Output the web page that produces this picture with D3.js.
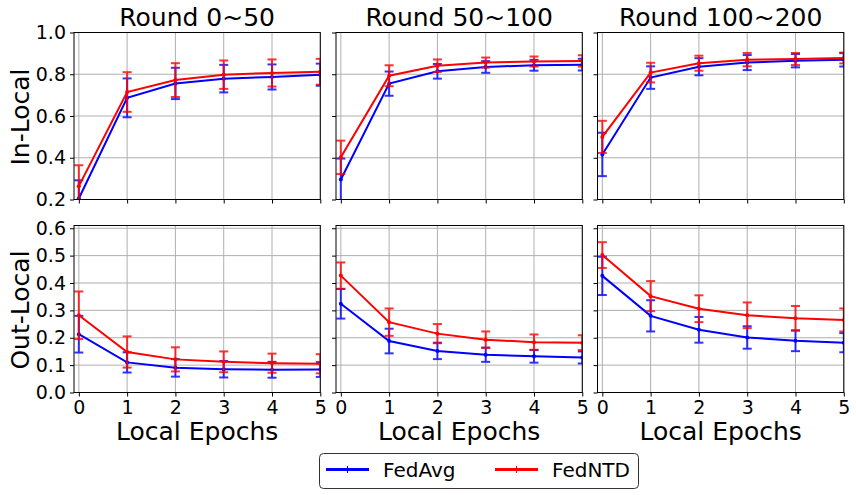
<!DOCTYPE html>
<html><head><meta charset="utf-8">
<script src="https://cdn.jsdelivr.net/npm/d3@7"></script>
<style>
body{margin:0;background:#fff;}
text{font-family:"DejaVu Sans",sans-serif;fill:#000;}
</style></head>
<body>
<svg id="c" width="856" height="495"></svg>
<script>
const epochs = [0,1,2,3,4,5];
const titles = ["Round 0~50","Round 50~100","Round 100~200"];
const rowLabels = ["In-Local","Out-Local"];
const seriesNames = ["FedAvg","FedNTD"];
const seriesColors = ["#0000ff","#ff0000"];
const topTicks = [0.2,0.4,0.6,0.8,1.0];
const bottomTicks = [0.0,0.1,0.2,0.3,0.4,0.5,0.6];

// In-Local: [panel][epoch]
const inAvg = [
  [0.205,0.687,0.756,0.779,0.787,0.798],
  [0.296,0.755,0.814,0.835,0.843,0.846],
  [0.416,0.784,0.836,0.856,0.865,0.869]];
const inAvgErr = [
  [0.087,0.093,0.075,0.066,0.060,0.053],
  [0.100,0.058,0.035,0.028,0.026,0.028],
  [0.104,0.054,0.041,0.036,0.032,0.032]];
const inNtd = [
  [0.264,0.715,0.772,0.798,0.806,0.812],
  [0.402,0.793,0.841,0.856,0.861,0.864],
  [0.500,0.808,0.853,0.870,0.873,0.878]];
const inNtdErr = [
  [0.100,0.095,0.081,0.068,0.065,0.062],
  [0.080,0.050,0.030,0.024,0.024,0.027],
  [0.077,0.047,0.036,0.032,0.029,0.026]];
// Out-Local
const outAvg = [
  [0.213,0.110,0.090,0.085,0.083,0.084],
  [0.324,0.188,0.152,0.138,0.132,0.128],
  [0.426,0.280,0.229,0.201,0.189,0.182]];
const outAvgErr = [
  [0.067,0.037,0.032,0.030,0.029,0.027],
  [0.054,0.045,0.030,0.026,0.023,0.022],
  [0.070,0.057,0.047,0.041,0.038,0.035]];
const outNtd = [
  [0.282,0.148,0.121,0.112,0.107,0.105],
  [0.427,0.257,0.215,0.193,0.184,0.182],
  [0.502,0.352,0.306,0.282,0.271,0.265]];
const outNtdErr = [
  [0.087,0.057,0.044,0.038,0.035,0.035],
  [0.048,0.050,0.035,0.030,0.028,0.027],
  [0.047,0.055,0.049,0.047,0.045,0.042]];

const svg = d3.select("#c");
const lefts = [74, 336, 597.5];
const pw = 246.3;
const tops = [32.5, 225.5];
const ph = 167;
const yDomains = [[0.2,1.0],[0,0.61]];
const yTicks = [topTicks, bottomTicks];
const rows = [
  [[inAvg,inAvgErr],[inNtd,inNtdErr]],
  [[outAvg,outAvgErr],[outNtd,outNtdErr]]];

const defs = svg.append("defs");

for (let r=0;r<2;r++){
  for (let c=0;c<3;c++){
    const x = d3.scaleLinear().domain([-0.1,5]).range([lefts[c], lefts[c]+pw]);
    const y = d3.scaleLinear().domain(yDomains[r]).range([tops[r]+ph, tops[r]]);
    const g = svg.append("g");
    const cid = `clip${r}${c}`;
    defs.append("clipPath").attr("id",cid).append("rect")
      .attr("x",lefts[c]).attr("y",tops[r]).attr("width",pw).attr("height",ph);

    // grid
    const grid = g.append("g").attr("stroke","#b0b0b0").attr("stroke-width",1);
    epochs.forEach(e=>grid.append("line").attr("x1",x(e)).attr("x2",x(e)).attr("y1",tops[r]).attr("y2",tops[r]+ph));
    yTicks[r].forEach(t=>grid.append("line").attr("x1",lefts[c]).attr("x2",lefts[c]+pw).attr("y1",y(t)).attr("y2",y(t)));

    // axes
    const xa = g.append("g").attr("transform",`translate(0,${tops[r]+ph})`)
      .call(d3.axisBottom(x).tickValues(epochs).tickSize(4).tickPadding(4).tickFormat(r===1? d3.format("d") : ""));
    const ya = g.append("g").attr("transform",`translate(${lefts[c]},0)`)
      .call(d3.axisLeft(y).tickValues(yTicks[r]).tickSize(4).tickPadding(4).tickFormat(c===0? d3.format(".1f") : ""));
    [xa,ya].forEach(a=>{
      a.select(".domain").remove();
      a.selectAll("line").attr("stroke","#000").attr("stroke-width",1);
      a.selectAll("text").style("font-size","19px").attr("fill","#000");
    });

    const plot = g.append("g").attr("clip-path",`url(#${cid})`);
    rows[r].forEach(([vals,errs],si)=>{
      const col = seriesColors[si];
      const data = epochs.map((e,i)=>({e, v:vals[c][i], s:errs[c][i]}));
      plot.append("path").datum(data)
        .attr("fill","none").attr("stroke",col).attr("stroke-width",2)
        .attr("d", d3.line().x(d=>x(d.e)).y(d=>y(d.v)));
      const eb = plot.append("g").attr("stroke",col).attr("stroke-width",2).attr("opacity",0.8);
      data.forEach(d=>{
        eb.append("line").attr("x1",x(d.e)).attr("x2",x(d.e)).attr("y1",y(d.v-d.s)).attr("y2",y(d.v+d.s));
        [d.v-d.s, d.v+d.s].forEach(v=>eb.append("line").attr("x1",x(d.e)-4.5).attr("x2",x(d.e)+4.5).attr("y1",y(v)).attr("y2",y(v)));
      });
      plot.selectAll(null).data(data).enter().append("circle")
        .attr("cx",d=>x(d.e)).attr("cy",d=>y(d.v)).attr("r",2).attr("fill",col);
    });

    // frame
    g.append("rect").attr("x",lefts[c]).attr("y",tops[r]).attr("width",pw).attr("height",ph)
      .attr("fill","none").attr("stroke","#000").attr("stroke-width",1);

    if (r===0) g.append("text").attr("x",lefts[c]+pw/2).attr("y",26).attr("text-anchor","middle")
      .style("font-size","25px").text(titles[c]);
    if (r===1) g.append("text").attr("x",lefts[c]+pw/2).attr("y",440).attr("text-anchor","middle")
      .style("font-size","25px").text("Local Epochs");
    if (c===0) g.append("text").attr("transform",`translate(29,${tops[r]+ph/2+1}) rotate(-90)`)
      .attr("text-anchor","middle").style("font-size","25px").text(rowLabels[r]);
  }
}

// legend
const lg = svg.append("g");
lg.append("rect").attr("x",319.5).attr("y",453.5).attr("width",319).attr("height",35).attr("rx",4)
  .attr("fill","#fff").attr("stroke","#333").attr("stroke-width",1);
const lx = [326, 495];
seriesNames.forEach((n,i)=>{
  lg.append("line").attr("x1",lx[i]).attr("x2",lx[i]+43).attr("y1",469.5).attr("y2",469.5)
    .attr("stroke",seriesColors[i]).attr("stroke-width",3);
  lg.append("line").attr("x1",lx[i]+21.5).attr("x2",lx[i]+21.5).attr("y1",466).attr("y2",473)
    .attr("stroke",seriesColors[i]).attr("stroke-width",1);
  lg.append("text").attr("x",lx[i]+57).attr("y",476.5).style("font-size","20px").text(n);
});
</script>
</body></html>
